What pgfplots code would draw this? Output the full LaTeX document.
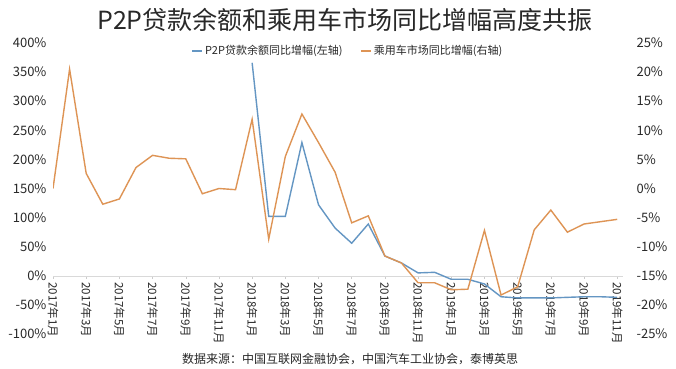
\documentclass[border=0pt]{standalone}
\usepackage{fontspec}
\setmainfont{Noto Sans CJK SC}
\usepackage{pgfplots}
\pgfplotsset{compat=1.18}
\definecolor{pblue}{RGB}{100,150,195}
\definecolor{porange}{RGB}{222,148,85}
\definecolor{txt}{RGB}{40,40,40}
\begin{document}
\begin{tikzpicture}
\path[use as bounding box, fill=white] (0,0) rectangle (676pt,368pt);
\begin{axis}[
  at={(53pt,34pt)}, anchor=south west, scale only axis,
  width=570pt, height=291pt,
  xmin=0, xmax=34.35, ymin=-100, ymax=400,
  axis x line*=middle, axis y line*=left,
  hide obscured x ticks=false, hide obscured y ticks=false,
  x axis line style={draw=gray!30, line width=0.6pt},
  y axis line style={draw=none},
  xtick={0,2,...,34},
  xticklabels={2017年1月,2017年3月,2017年5月,2017年7月,2017年9月,2017年11月,2018年1月,2018年3月,2018年5月,2018年7月,2018年9月,2018年11月,2019年1月,2019年3月,2019年5月,2019年7月,2019年9月,2019年11月},
  xticklabel style={rotate=-90, anchor=west, font=\fontsize{11.5}{13}\selectfont, text=txt},
  ytick={-100,-50,...,400},
  yticklabels={-100\%,-50\%,0\%,50\%,100\%,150\%,200\%,250\%,300\%,350\%,400\%},
  yticklabel style={font=\fontsize{13}{15}\selectfont, text=txt},
  ytick style={draw=none},
  xtick style={draw=gray!40, line width=0.5pt},
  tick align=outside, major tick length=3pt,
]
\addplot[pblue, line width=1.4pt] coordinates {
(12,366) (13,102) (14,102) (15,229) (16,122) (17,82) (18,56) (19,89) (20,34) (21,22) (22,5) (23,6) (24,-6) (25,-6) (26,-14) (27,-36) (28,-38) (29,-38) (30,-38) (31,-37) (32,-36) (33,-36) (34,-37)
};
\end{axis}
\begin{axis}[
  at={(53pt,34pt)}, anchor=south west, scale only axis,
  width=570pt, height=291pt,
  xmin=0, xmax=34.35, ymin=-25, ymax=25,
  axis x line=none, axis y line*=right,
  y axis line style={draw=none},
  ytick={-25,-20,...,25},
  yticklabels={-25\%,-20\%,-15\%,-10\%,-5\%,0\%,5\%,10\%,15\%,20\%,25\%},
  yticklabel style={font=\fontsize{13}{15}\selectfont, text=txt, xshift=10pt},
  ytick style={draw=none},
  legend style={at={(0.5175,0.9725)}, anchor=center, draw=none, fill=none,
    font=\fontsize{11}{12}\selectfont, text=txt,
    /tikz/every even column/.append style={column sep=16pt}},
  legend columns=2,
  legend image code/.code={\draw[#1] (0pt,0pt) -- (10pt,0pt);},
]
\addlegendimage{pblue, line width=1.4pt}
\addlegendentry{P2P贷款余额同比增幅(左轴)}
\addplot[porange, line width=1.4pt] coordinates {
(0,0) (1,20.5) (2,2.6) (3,-2.7) (4,-1.8) (5,3.6) (6,5.7) (7,5.2) (8,5.1) (9,-0.9) (10,0.0) (11,-0.2) (12,11.9) (13,-8.7) (14,5.5) (15,12.8) (16,7.9) (17,2.8) (18,-5.9) (19,-4.7) (20,-11.6) (21,-12.8) (22,-16.2) (23,-16.2) (24,-17.4) (25,-17.3) (26,-7.2) (27,-18.3) (28,-16.9) (29,-7.1) (30,-3.7) (31,-7.5) (32,-6.1) (33,-5.7) (34,-5.3)
};
\addlegendentry{乘用车市场同比增幅(右轴)}
\end{axis}
\node[font=\fontsize{25}{28}\selectfont, text=txt] at (345pt,348pt) {P2P贷款余额和乘用车市场同比增幅高度共振};
\node[font=\fontsize{12}{14}\selectfont, text=txt] at (350pt,9pt) {数据来源：中国互联网金融协会，中国汽车工业协会，泰博英思};
\end{tikzpicture}
\end{document}
